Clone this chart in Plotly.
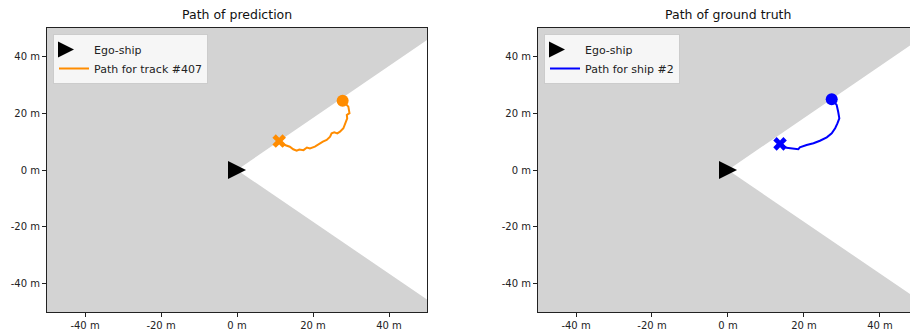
import plotly.graph_objects as go

# Ego-ship position and the edge of its white field of view at x = 50 m
ego_x = [0.0]
ego_y = [0.0]
fov_x = [0.0, 50.0, 50.0, 0.0]
fov_y = [0.0, 45.8, -45.6, 0.0]

# Predicted path for track #407 (start -> end)
pred_x = [27.8, 29.3, 29.6, 28.9, 29.0, 28.4, 28.0, 27.1, 26.4, 25.6, 24.9, 24.5,
          23.6, 22.6, 21.8, 20.5, 19.2, 18.4, 17.5, 16.4, 15.7, 14.8, 13.9, 12.6, 11.1]
pred_y = [24.4, 22.3, 20.0, 19.4, 18.2, 16.4, 14.7, 13.5, 12.9, 13.3, 12.9, 11.7,
          10.6, 10.0, 9.4, 8.2, 7.6, 7.9, 7.0, 7.2, 6.8, 7.3, 8.2, 8.8, 10.2]

# Ground-truth path for ship #2 (start -> end)
true_x = [27.3, 28.6, 29.0, 29.3, 28.8, 28.2, 27.3, 26.0, 24.2, 22.5, 20.7, 18.9,
          18.5, 17.2, 15.4, 13.7]
true_y = [24.9, 22.9, 20.5, 18.2, 16.4, 14.7, 12.9, 11.5, 10.3, 9.4, 8.8, 8.0,
          7.3, 7.6, 7.8, 9.2]

tick_vals = [-40, -20, 0, 20, 40]
tick_text = [f"{v} m" for v in tick_vals]

ORANGE = "#ff8c00"
BLUE = "#0000ff"
GRAY = "#d3d3d3"
FONT = "DejaVu Sans"

fig = go.Figure()


def add_panel(xa, ya, px, py, color, label, legend):
    fig.add_trace(go.Scatter(x=fov_x, y=fov_y, mode="lines", fill="toself",
                             fillcolor="white", line=dict(width=0),
                             xaxis=xa, yaxis=ya, showlegend=False, hoverinfo="skip"))
    # ego-ship: a square-proportioned arrowhead, pushed forward so it is centred on the point
    fig.add_trace(go.Scatter(x=ego_x, y=ego_y, mode="markers", showlegend=False,
                             marker=dict(symbol="arrow-down", size=18, angle=-90,
                                         standoff=9, color="black",
                                         line=dict(width=0)),
                             xaxis=xa, yaxis=ya))
    # legend entry for the ego-ship
    fig.add_trace(go.Scatter(x=[None], y=[None], mode="markers", name="Ego-ship",
                             marker=dict(symbol="arrow-right", size=18, color="black",
                                         line=dict(width=0)),
                             xaxis=xa, yaxis=ya, legend=legend))
    fig.add_trace(go.Scatter(x=px, y=py, mode="lines", name=label,
                             line=dict(color=color, width=2),
                             xaxis=xa, yaxis=ya, legend=legend))
    fig.add_trace(go.Scatter(x=[px[0]], y=[py[0]], mode="markers",
                             marker=dict(symbol="circle", size=12, color=color),
                             xaxis=xa, yaxis=ya, showlegend=False))
    fig.add_trace(go.Scatter(x=[px[-1]], y=[py[-1]], mode="markers",
                             marker=dict(symbol="x", size=12, color=color,
                                         line=dict(width=0)),
                             xaxis=xa, yaxis=ya, showlegend=False))


add_panel("x", "y", pred_x, pred_y, ORANGE, "Path for track #407", "legend")
add_panel("x2", "y2", true_x, true_y, BLUE, "Path for ship #2", "legend2")

W, H = 910, 336
L_DOM = [47 / W, 427 / W]
R_DOM = [538 / W, 1.0]

axis_common = dict(
    tickmode="array", tickvals=tick_vals, ticktext=tick_text,
    ticks="outside", ticklen=4,
    tickcolor="#222", tickwidth=1, showgrid=False, zeroline=False,
    showline=True, linecolor="#222", linewidth=1,
    tickfont=dict(family=FONT, size=10, color="#222"),
)

legend_common = dict(
    bgcolor="rgba(255,255,255,0.8)", bordercolor="#cccccc", borderwidth=1,
    font=dict(family=FONT, size=11, color="#222"), yanchor="top", xanchor="left",
    tracegroupgap=0, itemwidth=30,
)

fig.update_layout(
    width=W, height=H,
    margin=dict(l=0, r=0, t=28, b=24),
    paper_bgcolor="white", plot_bgcolor=GRAY,
    font=dict(family=FONT),
    xaxis=dict(domain=L_DOM, range=[-50, 50], mirror=True, anchor="y", **axis_common),
    yaxis=dict(domain=[0, 1], range=[-50, 50], mirror=True, anchor="x", **axis_common),
    xaxis2=dict(domain=R_DOM, range=[-50, 47.9], mirror=True, anchor="y2", **axis_common),
    yaxis2=dict(domain=[0, 1], range=[-50, 50], mirror=False, anchor="x2", **axis_common),
    legend=dict(x=L_DOM[0] + 6 / W, y=1 - 6 / 284, **legend_common),
    legend2=dict(x=R_DOM[0] + 6 / W, y=1 - 6 / 284, **legend_common),
    annotations=[
        dict(text="Path of prediction", x=(L_DOM[0] + L_DOM[1]) / 2, y=1,
             xref="paper", yref="paper", xanchor="center", yanchor="bottom",
             yshift=4, showarrow=False, font=dict(family=FONT, size=12.5, color="#111")),
        dict(text="Path of ground truth", x=(538 + 918) / 2 / W, y=1,
             xref="paper", yref="paper", xanchor="center", yanchor="bottom",
             yshift=4, showarrow=False, font=dict(family=FONT, size=12.5, color="#111")),
    ],
)

fig.write_html("out.html")
